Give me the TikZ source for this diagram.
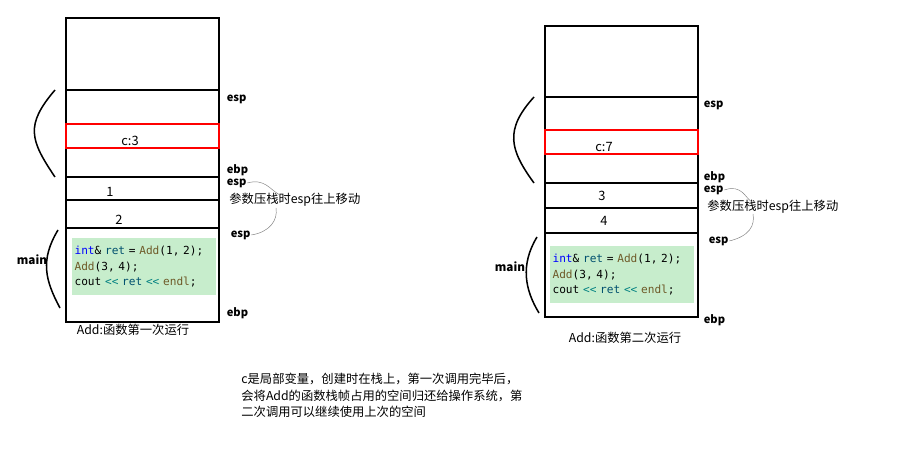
\documentclass[tikz,border=0pt]{standalone}
\usepackage{fontspec}
\setmainfont{Noto Sans CJK SC}
\setmonofont{DejaVu Sans Mono}
\usetikzlibrary{positioning}
\definecolor{codebg}{RGB}{199,237,204}
\definecolor{kwblue}{RGB}{0,0,255}
\definecolor{idteal}{RGB}{0,80,110}
\definecolor{fnbrown}{RGB}{110,90,40}
\definecolor{opteal}{RGB}{0,128,128}
\tikzset{x=0.03cm, y=-0.03cm,
  cell/.style={draw, line width=1.4pt},
  redcell/.style={draw=red, line width=1.4pt},
  reg/.style={font=\fontsize{9.5}{9.5}\selectfont\bfseries, anchor=west, inner sep=0.5pt},
  val/.style={font=\fontsize{11}{11}\selectfont, inner sep=1pt},
  note/.style={font=\fontsize{10.5}{14}\selectfont, anchor=west, align=left, inner sep=1pt},
  codebox/.style={fill=codebg, font=\ttfamily\fontsize{9.5}{13.5}\selectfont, anchor=north west, align=left, inner sep=2pt, minimum width=143*0.03cm, minimum height=57*0.03cm, text width=139*0.03cm},
  brace/.style={line width=1.3pt},
  hint/.style={draw=gray, thin}}
\newcommand{\codetext}{\textcolor{kwblue}{int}\& \textcolor{idteal}{ret} = \textcolor{fnbrown}{Add}(1, 2);\\\textcolor{fnbrown}{Add}(3, 4);\\cout \textcolor{opteal}{<<} \textcolor{idteal}{ret} \textcolor{opteal}{<<} \textcolor{fnbrown}{endl};}
\begin{document}
\begin{tikzpicture}
\useasboundingbox (0,0) rectangle (899,458);
% first call
\draw [cell] (66,18) rectangle (219,322);
\foreach \yy in {90,177,200,228} \draw [cell] (66,\yy) -- (219,\yy);
\draw [redcell] (66,124) rectangle (219,148);
\node [val] (c1) at (130,141) {c:3};
\node [val] (a1) at (110,192) {1};
\node [val] (b1) at (119,220) {2};
\node [codebox] (code1) at (72,238) {\codetext};
\node [reg] (esp1a) at (226,99) {esp};
\node [reg] (ebp1a) at (226,170) {ebp};
\node [reg] (esp1b) at (226,183) {esp};
\node [note] (push1) at (228,200) {参数压栈时esp往上移动};
\node [reg] (esp1c) at (230,235) {esp};
\node [reg] (ebp1b) at (226,313) {ebp};
\node [val, font=\fontsize{10}{10}\selectfont\bfseries] (main1) at (32,260) {main};
\node [note, anchor=center] (cap1) at (133,330) {Add:函数第一次运行};
\draw [brace] (55,90) .. controls (25,125) and (30,140) .. (55,177);
\draw [brace] (58,230) .. controls (40,260) and (45,280) .. (60,308);
\draw [hint] (esp1b.east) .. controls (265,178) and (270,190) .. (280,195);
\draw [hint] (esp1c.east) .. controls (270,232) and (278,220) .. (276,208);
% second call
\draw [cell] (545,26) rectangle (698,317);
\foreach \yy in {97,183,208,233} \draw [cell] (545,\yy) -- (698,\yy);
\draw [redcell] (545,130) rectangle (698,154);
\node [val] (c2) at (604,147) {c:7};
\node [val] (a2) at (602,196) {3};
\node [val] (b2) at (604,221) {4};
\node [codebox] (code2) at (550,246) {\codetext};
\node [reg] (esp2a) at (703,105) {esp};
\node [reg] (ebp2a) at (703,177) {ebp};
\node [reg] (esp2b) at (703,190) {esp};
\node [note] (push2) at (706,207) {参数压栈时esp往上移动};
\node [reg] (esp2c) at (708,241) {esp};
\node [reg] (ebp2b) at (703,320) {ebp};
\node [val, font=\fontsize{10}{10}\selectfont\bfseries] (main2) at (510,267) {main};
\node [note, anchor=center] (cap2) at (625,338) {Add:函数第二次运行};
\draw [brace] (534,97) .. controls (504,130) and (510,150) .. (534,183);
\draw [brace] (537,237) .. controls (520,265) and (525,290) .. (539,313);
\draw [hint] (esp2b.east) .. controls (742,184) and (745,198) .. (752,202);
\draw [hint] (esp2c.east) .. controls (750,236) and (755,225) .. (753,214);
% note
\node [note, anchor=north west] (remark) at (240,372) {c是局部变量，创建时在栈上，第一次调用完毕后，\\会将Add的函数栈帧占用的空间归还给操作系统，第\\二次调用可以继续使用上次的空间};
\end{tikzpicture}
\end{document}
